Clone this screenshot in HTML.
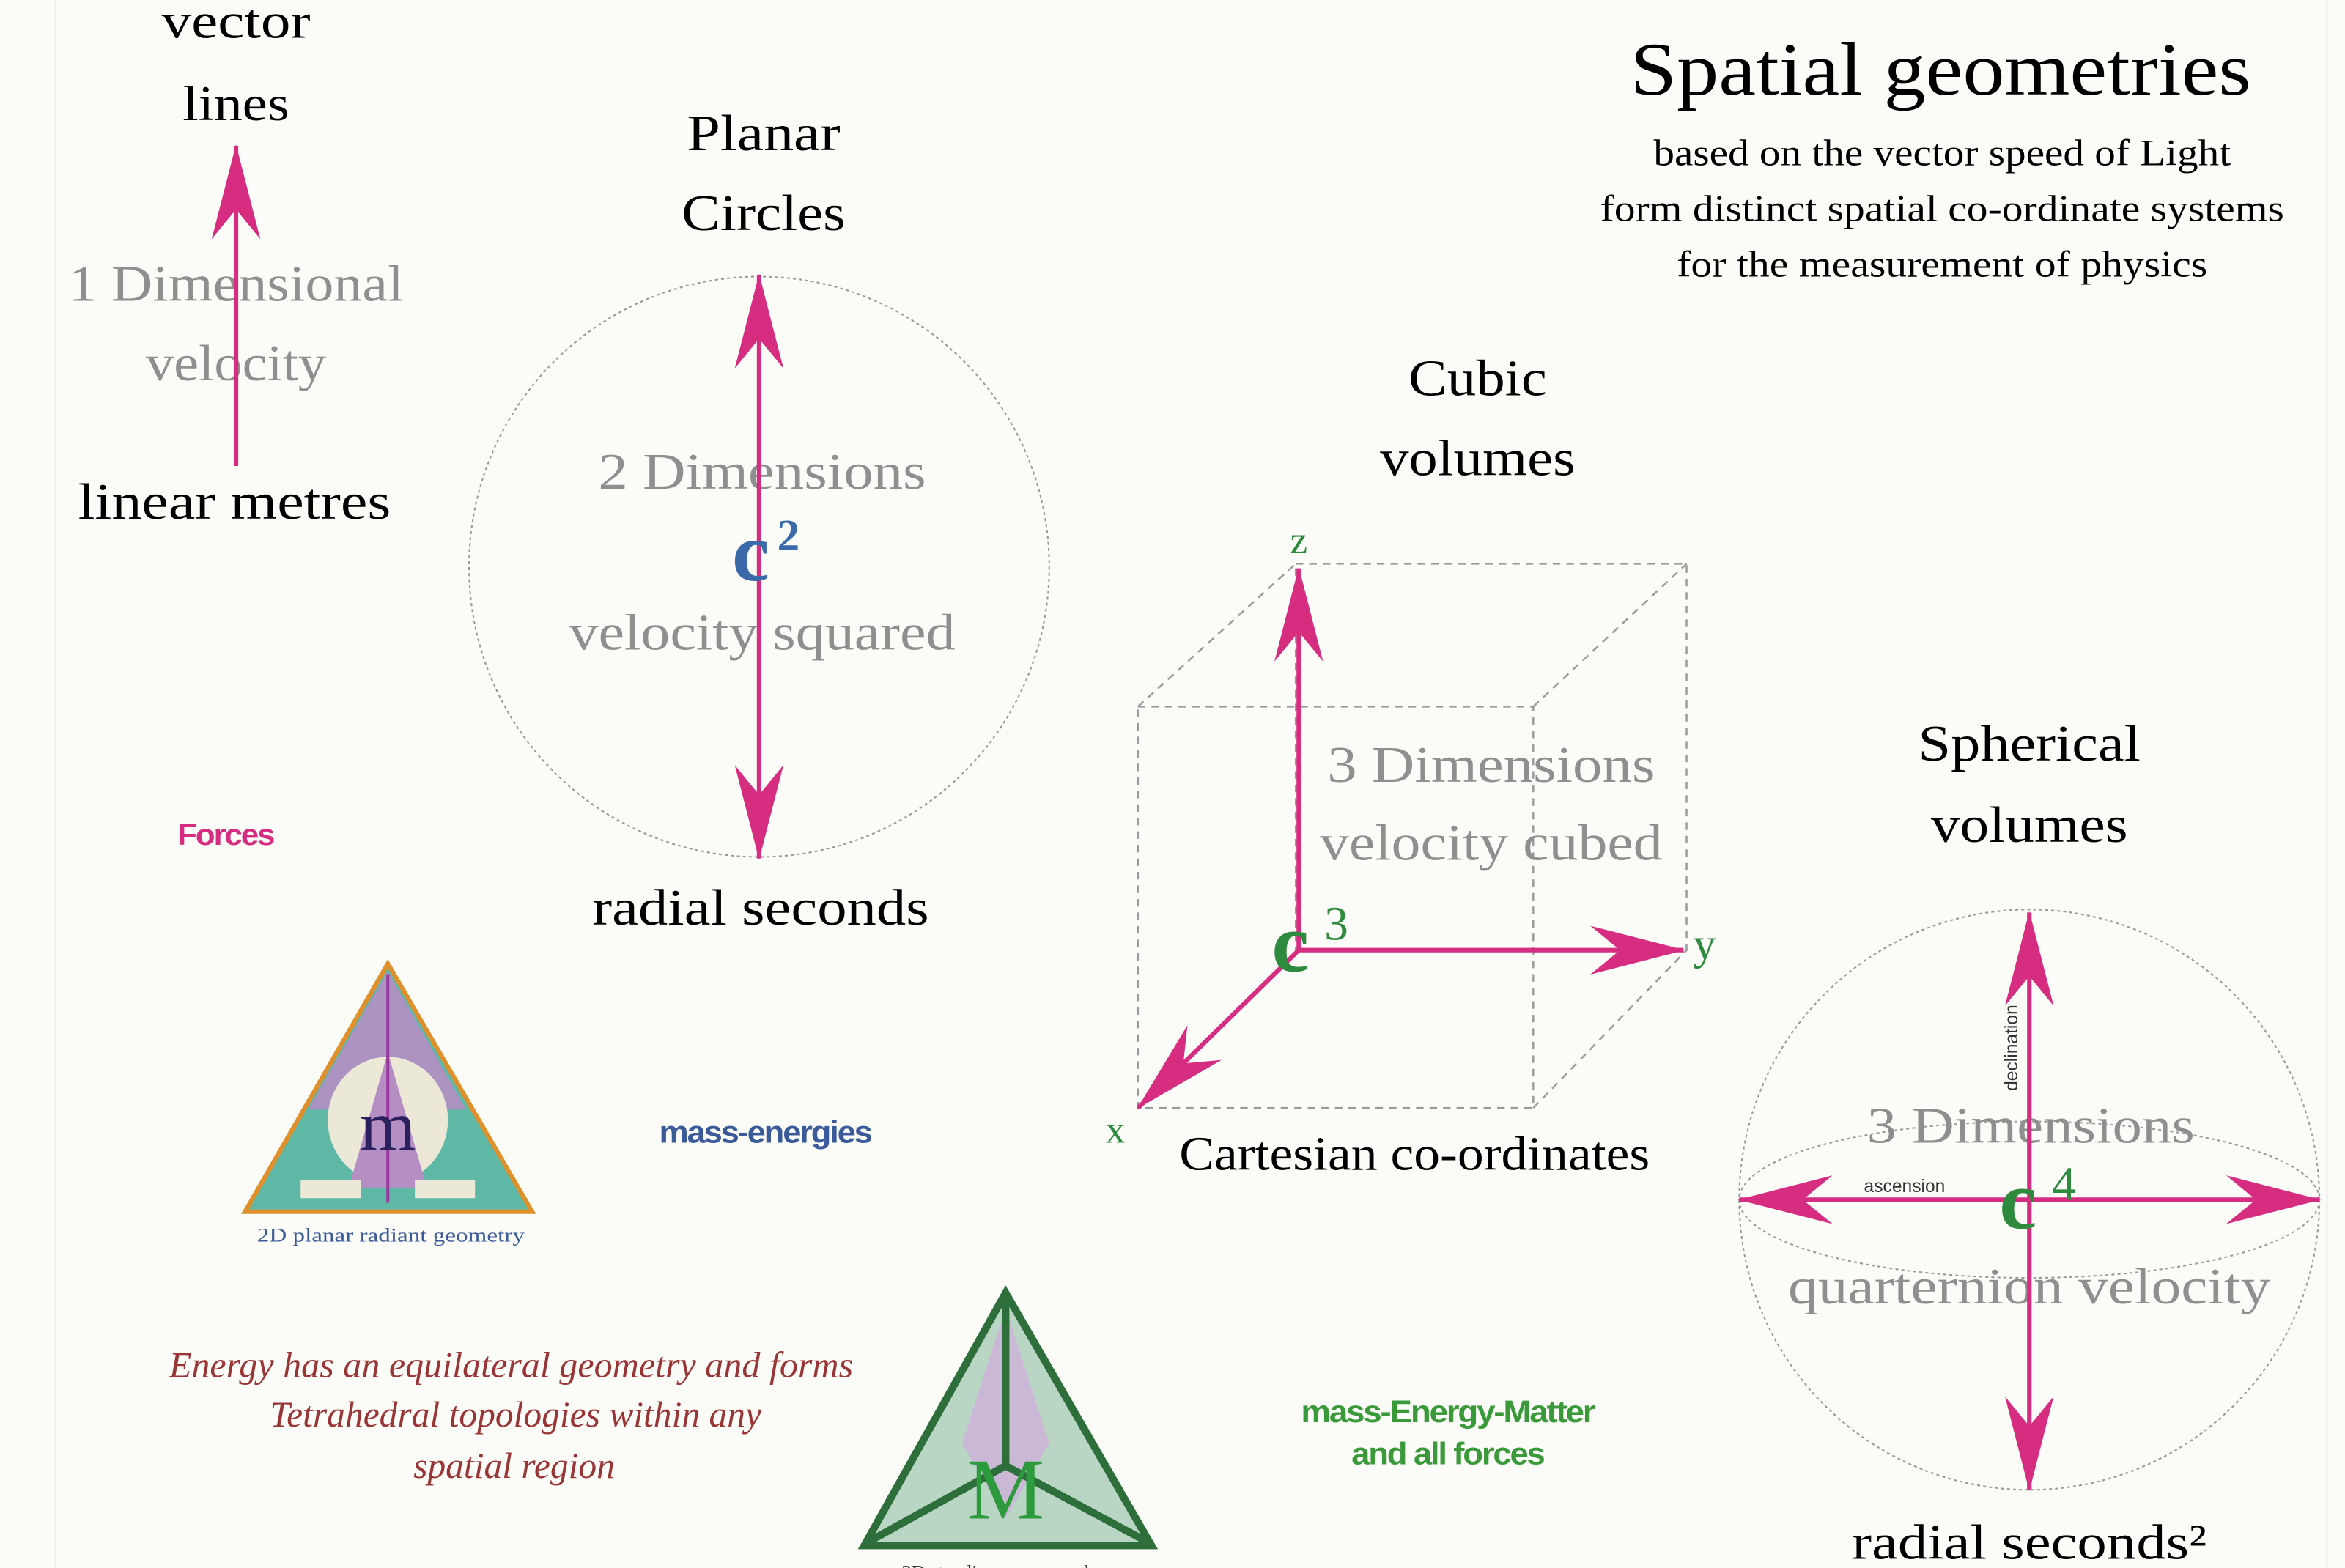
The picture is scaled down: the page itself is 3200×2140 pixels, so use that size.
<!DOCTYPE html>
<html><head><meta charset="utf-8"><style>
html,body{margin:0;padding:0;background:#fbfbf8;}
svg{display:block}
.s{font-family:"Liberation Serif",serif;text-anchor:middle}
.b{font-family:"Liberation Sans",sans-serif;text-anchor:middle;font-weight:bold;letter-spacing:-1px}
</style></head><body>
<svg width="3200" height="2140" viewBox="0 0 1560 1043" preserveAspectRatio="none" xmlns="http://www.w3.org/2000/svg">
<defs>
<marker id="ah" viewBox="0 0 70 40" refX="69" refY="20" markerWidth="66" markerHeight="36" orient="auto-start-reverse" markerUnits="userSpaceOnUse">
<path d="M0,2 L70,20 L0,38 L22,20 Z" fill="#d62d80"/>
</marker>
</defs>
<rect width="1560" height="1043" fill="#fbfbf8"/>
<line x1="37" y1="0" x2="37" y2="1043" stroke="#ececec" stroke-width="1"/>
<line x1="1548" y1="0" x2="1548" y2="1043" stroke="#ececec" stroke-width="1"/>

<g lengthAdjust="spacingAndGlyphs">
<!-- 1D -->
<text class="s" x="157" y="25" font-size="33" textLength="99" lengthAdjust="spacingAndGlyphs">vector</text>
<text class="s" x="157" y="80" font-size="33" textLength="71" lengthAdjust="spacingAndGlyphs">lines</text>
<text class="s" x="157" y="200" font-size="34" fill="#8f8f8f" textLength="223" lengthAdjust="spacingAndGlyphs">1 Dimensional</text>
<text class="s" x="157" y="253" font-size="34" fill="#8f8f8f" textLength="120" lengthAdjust="spacingAndGlyphs">velocity</text>
<line x1="157" y1="310" x2="157" y2="97" stroke="#d62d80" stroke-width="3" marker-end="url(#ah)"/>
<text class="s" x="156" y="345" font-size="34" textLength="208" lengthAdjust="spacingAndGlyphs">linear metres</text>
<text class="b" x="150" y="562" font-size="20" fill="#d62d80" textLength="64" lengthAdjust="spacingAndGlyphs">Forces</text>

<!-- 2D -->
<text class="s" x="508" y="100" font-size="34" textLength="102" lengthAdjust="spacingAndGlyphs">Planar</text>
<text class="s" x="508" y="153" font-size="34" textLength="109" lengthAdjust="spacingAndGlyphs">Circles</text>
<circle cx="505" cy="377" r="193" fill="none" stroke="#999" stroke-width="1" stroke-dasharray="2,2"/>
<text class="s" x="507" y="325" font-size="34" fill="#8f8f8f" textLength="218" lengthAdjust="spacingAndGlyphs">2 Dimensions</text>
<text class="s" x="507" y="432" font-size="34" fill="#8f8f8f" textLength="257" lengthAdjust="spacingAndGlyphs">velocity squared</text>
<line x1="505" y1="183" x2="505" y2="571" stroke="#d62d80" stroke-width="3" marker-start="url(#ah)" marker-end="url(#ah)"/>
<text x="487" y="386" font-family="Liberation Serif,serif" font-size="56" font-weight="bold" fill="#3a6aaa">c</text>
<text x="517" y="366" font-family="Liberation Serif,serif" font-size="30" font-weight="bold" fill="#3a6aaa">2</text>
<text class="s" x="506" y="615" font-size="34" textLength="224" lengthAdjust="spacingAndGlyphs">radial seconds</text>

<!-- title -->
<text class="s" x="1291" y="63" font-size="50" textLength="413" lengthAdjust="spacingAndGlyphs">Spatial geometries</text>
<text class="s" x="1292" y="110" font-size="25" textLength="384" lengthAdjust="spacingAndGlyphs">based on the vector speed of Light</text>
<text class="s" x="1292" y="147" font-size="25" textLength="455" lengthAdjust="spacingAndGlyphs">form distinct spatial co-ordinate systems</text>
<text class="s" x="1292" y="184" font-size="25" textLength="353" lengthAdjust="spacingAndGlyphs">for the measurement of physics</text>

<!-- cube -->
<text class="s" x="983" y="263" font-size="34" textLength="92" lengthAdjust="spacingAndGlyphs">Cubic</text>
<text class="s" x="983" y="316" font-size="34" textLength="130" lengthAdjust="spacingAndGlyphs">volumes</text>
<g fill="none" stroke="#9a9a9a" stroke-width="1.2" stroke-dasharray="5,4">
<rect x="862" y="375" width="260" height="257"/>
<rect x="757" y="470" width="263" height="267"/>
<line x1="757" y1="470" x2="862" y2="375"/>
<line x1="1020" y1="470" x2="1122" y2="375"/>
<line x1="1020" y1="737" x2="1122" y2="632"/>
</g>
<text class="s" x="992" y="520" font-size="34" fill="#8f8f8f" textLength="218" lengthAdjust="spacingAndGlyphs">3 Dimensions</text>
<text class="s" x="992" y="572" font-size="34" fill="#8f8f8f" textLength="228" lengthAdjust="spacingAndGlyphs">velocity cubed</text>
<line x1="864" y1="632" x2="864" y2="378" stroke="#d62d80" stroke-width="3" marker-end="url(#ah)"/>
<line x1="864" y1="632" x2="1120" y2="632" stroke="#d62d80" stroke-width="3" marker-end="url(#ah)"/>
<line x1="864" y1="632" x2="757" y2="737" stroke="#d62d80" stroke-width="3" marker-end="url(#ah)"/>
<text class="s" x="864" y="368" font-size="26" fill="#2e8b3e">z</text>
<text class="s" x="1134" y="638" font-size="30" fill="#2e8b3e">y</text>
<text class="s" x="742" y="760" font-size="26" fill="#2e8b3e">x</text>
<text x="846" y="646" font-family="Liberation Serif,serif" font-size="56" font-weight="bold" fill="#2e8b3e">c</text>
<text x="881" y="625" font-family="Liberation Serif,serif" font-size="32" fill="#2e8b3e">3</text>
<text class="s" x="941" y="778" font-size="32" textLength="313" lengthAdjust="spacingAndGlyphs">Cartesian co-ordinates</text>

<!-- sphere -->
<text class="s" x="1350" y="506" font-size="34" textLength="148" lengthAdjust="spacingAndGlyphs">Spherical</text>
<text class="s" x="1350" y="560" font-size="34" textLength="131" lengthAdjust="spacingAndGlyphs">volumes</text>
<circle cx="1350" cy="798" r="193" fill="none" stroke="#999" stroke-width="1" stroke-dasharray="2,2"/>
<ellipse cx="1350" cy="798" rx="193" ry="52" fill="none" stroke="#999" stroke-width="1" stroke-dasharray="2,2"/>
<text class="s" x="1351" y="760" font-size="34" fill="#8f8f8f" textLength="218" lengthAdjust="spacingAndGlyphs">3 Dimensions</text>
<text class="s" x="1350" y="867" font-size="34" fill="#8f8f8f" textLength="321" lengthAdjust="spacingAndGlyphs">quarternion velocity</text>
<line x1="1350" y1="607" x2="1350" y2="991" stroke="#d62d80" stroke-width="3" marker-start="url(#ah)" marker-end="url(#ah)"/>
<line x1="1157" y1="798" x2="1543" y2="798" stroke="#d62d80" stroke-width="3" marker-start="url(#ah)" marker-end="url(#ah)"/>
<text x="1342" y="697" font-family="Liberation Sans,sans-serif" font-size="12" text-anchor="middle" transform="rotate(-90 1342 697)" fill="#333">declination</text>
<text x="1267" y="793" font-family="Liberation Sans,sans-serif" font-size="12" text-anchor="middle" fill="#333">ascension</text>
<text x="1330" y="817" font-family="Liberation Serif,serif" font-size="56" font-weight="bold" fill="#2e8b3e">c</text>
<text x="1365" y="798" font-family="Liberation Serif,serif" font-size="32" fill="#2e8b3e">4</text>
<text class="s" x="1350" y="1037" font-size="33" textLength="236" lengthAdjust="spacingAndGlyphs">radial seconds²</text>

<!-- triangle 1 -->
<polygon points="258,641 163,806 354,806" fill="#5fb8a5" stroke="#e0902a" stroke-width="3"/>
<polygon points="258,646 205,738 310,738" fill="#b58fc4" opacity="0.9"/>
<ellipse cx="258" cy="745" rx="40" ry="42" fill="#ece8d8"/>
<path d="M232,790 L258,700 L284,790 Z" fill="#b58fc4"/>
<rect x="200" y="785" width="40" height="12" fill="#ece8d8"/>
<rect x="276" y="785" width="40" height="12" fill="#ece8d8"/>
<line x1="258" y1="648" x2="258" y2="800" stroke="#9a3aa0" stroke-width="2"/>
<text class="s" x="258" y="765" font-size="48" fill="#2a2060">m</text>
<text class="s" x="260" y="826" font-family="Liberation Sans,sans-serif" font-size="13" fill="#3a5a9a" textLength="178" lengthAdjust="spacingAndGlyphs">2D planar radiant geometry</text>
<text class="b" x="509" y="760" font-size="21" fill="#3a5a9a" textLength="141" lengthAdjust="spacingAndGlyphs">mass-energies</text>

<!-- italic text -->
<text class="s" x="340" y="916" font-size="24" font-style="italic" fill="#9a3535" textLength="455" lengthAdjust="spacingAndGlyphs">Energy has an equilateral geometry and forms</text>
<text class="s" x="343" y="949" font-size="24" font-style="italic" fill="#9a3535" textLength="327" lengthAdjust="spacingAndGlyphs">Tetrahedral topologies within any</text>
<text class="s" x="342" y="983" font-size="24" font-style="italic" fill="#9a3535" textLength="134" lengthAdjust="spacingAndGlyphs">spatial region</text>

<!-- triangle 2 -->
<polygon points="669,860 575,1028 766,1028" fill="#b9d6c4" stroke="#2e6e3a" stroke-width="5"/>
<path d="M669,870 L640,960 L669,1010 L698,960 Z" fill="#d0b0dc" opacity="0.8"/>
<line x1="669" y1="862" x2="669" y2="975" stroke="#2e6e3a" stroke-width="5"/>
<line x1="669" y1="975" x2="577" y2="1026" stroke="#2e6e3a" stroke-width="5"/>
<line x1="669" y1="975" x2="764" y2="1026" stroke="#2e6e3a" stroke-width="5"/>
<text class="s" x="669" y="1010" font-size="58" fill="#2e9a3e">M</text>
<text class="s" x="672" y="1050" font-family="Liberation Sans,sans-serif" font-size="13" fill="#333">3D standing-wave topology</text>
<text class="b" x="963" y="946" font-size="21" fill="#3a9a3a" textLength="195" lengthAdjust="spacingAndGlyphs">mass-Energy-Matter</text>
<text class="b" x="963" y="974" font-size="21" fill="#3a9a3a" textLength="128" lengthAdjust="spacingAndGlyphs">and all forces</text>
</g>
</svg>
</body></html>
